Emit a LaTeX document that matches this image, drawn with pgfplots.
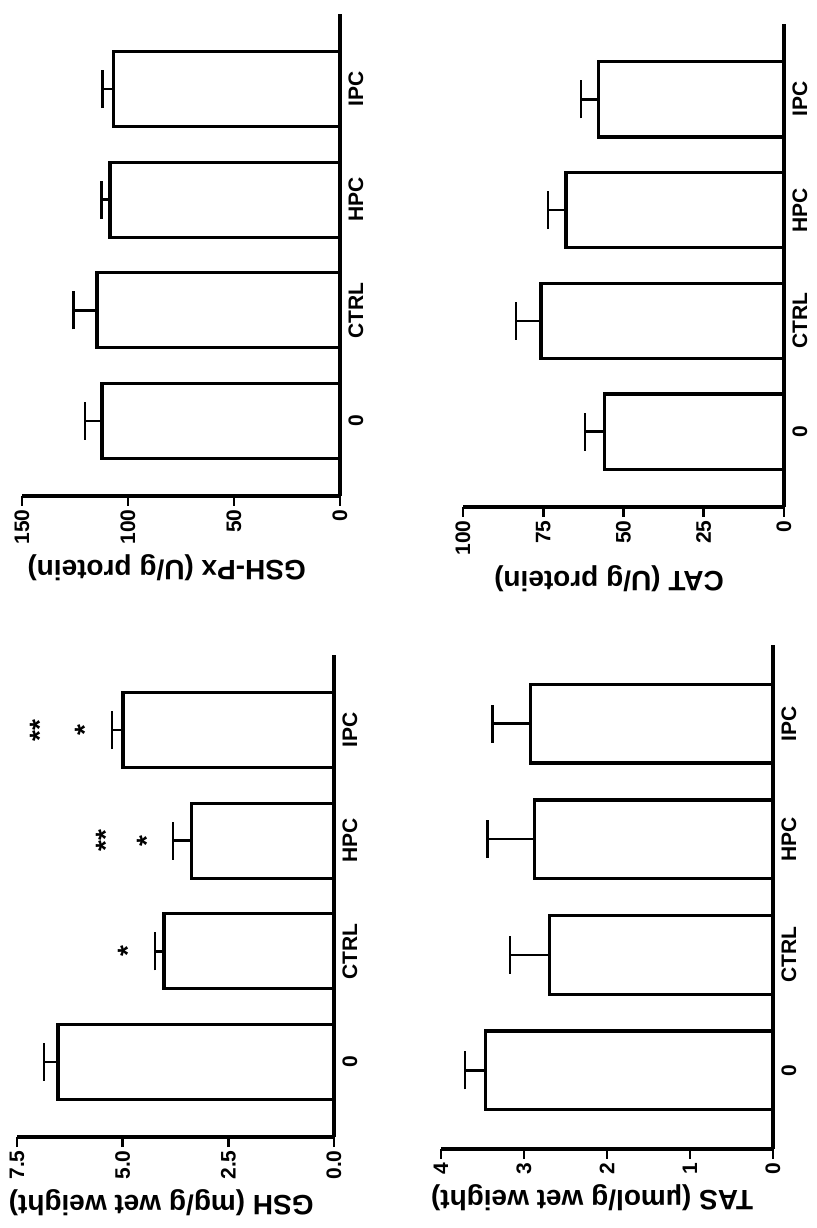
\documentclass[border=0pt]{standalone}
\usepackage{fontspec}
\setmainfont{Liberation Sans}
\usepackage{pgfplots}
\pgfplotsset{compat=1.18}
\pgfplotsset{
  panel/.style={
    scale only axis,
    clip=false,
    x dir=reverse,
    axis x line*=bottom,
    axis y line*=right,
    axis line style={-, line width=1.6pt, black},
    xmin=0,
    ymin=-0.68, ymax=3.68,
    ytick={0,1,2,3},
    yticklabels={0,CTRL,HPC,IPC},
    ytick style={draw=none},
    xtick align=outside,
    xtick style={line width=1.4pt, black},
    major tick length=5pt,
    tick label style={font=\bfseries\fontsize{10.5}{12}\selectfont},
    /pgf/number format/assume math mode=true,
    xticklabel style={rotate=90, anchor=east, inner sep=1.5pt},
    yticklabel style={rotate=90, anchor=north, inner sep=4pt},
    xlabel style={font=\bfseries\fontsize{14}{16}\selectfont, rotate=180, anchor=south, at={(ticklabel cs:0.455)}},
  },
  mybar/.style={xbar, bar width=0.68, bar shift=0pt, fill=white, draw=black, line width=1.6pt,
     error bars/.cd, x dir=plus, x explicit, error mark=|,
     error bar style={line width=1.25pt, black},
     error mark options={line width=1.25pt, mark size=9.5pt, black}},
}
\begin{document}
\begin{tikzpicture}
\useasboundingbox (0,0) rectangle (408.5pt,614pt);
% GSH-Px
\begin{axis}[panel, at={(11pt,366pt)}, anchor=south west, width=159pt, height=241pt,
  xmax=150, xtick={0,50,100,150}, xlabel={GSH-Px (U/g protein)}]
\addplot[mybar] coordinates {(112.3,0) +- (8,0) (114.6,1) +- (11,0) (108.5,2) +- (4,0) (107,3) +- (5,0)};
\end{axis}
% CAT
\begin{axis}[panel, at={(231.5pt,360.5pt)}, anchor=south west, width=160.5pt, height=241.5pt,
  xmax=100, xtick={0,25,50,75,100}, xlabel={CAT (U/g protein)}]
\addplot[mybar] coordinates {(55.8,0) +- (6.2,0) (75.7,1) +- (7.8,0) (67.9,2) +- (5.6,0) (57.9,3) +- (5.3,0)};
\end{axis}
% GSH
\begin{axis}[panel, at={(8.5pt,45.5pt)}, anchor=south west, width=158.5pt, height=241pt,
  xmax=7.5, xtick={0,2.5,5,7.5},
  xticklabel style={/pgf/number format/fixed, /pgf/number format/fixed zerofill, /pgf/number format/precision=1},
  xlabel={GSH (mg/g wet weight)}]
\addplot[mybar] coordinates {(6.53,0) +- (0.33,0) (4.02,1) +- (0.21,0) (3.38,2) +- (0.43,0) (4.99,3) +- (0.26,0)};
\addplot[draw=none, mark=none, nodes near coords, point meta=explicit symbolic,
  nodes near coords style={anchor=center, rotate=90, font=\bfseries\fontsize{14}{16}\selectfont}]
  coordinates {(4.87,1) [*] (4.42,2) [*] (5.39,2) [**] (5.89,3) [*] (6.96,3) [**]};
\end{axis}
% TAS
\begin{axis}[panel, at={(220.5pt,39.5pt)}, anchor=south west, width=166pt, height=252pt,
  xmax=4, xtick={0,1,2,3,4}, xlabel={TAS (µmol/g wet weight)}]
\addplot[mybar] coordinates {(3.46,0) +- (0.25,0) (2.69,1) +- (0.48,0) (2.87,2) +- (0.57,0) (2.92,3) +- (0.46,0)};
\end{axis}
\end{tikzpicture}
\end{document}
